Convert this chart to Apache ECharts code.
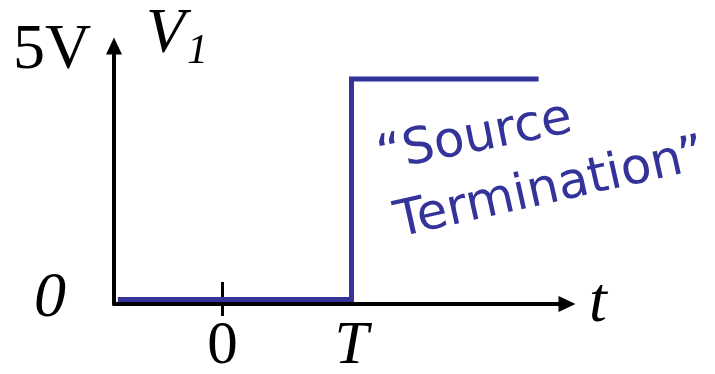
<!DOCTYPE html>
<html>
<head>
<meta charset="utf-8">
<script src="https://cdn.jsdelivr.net/npm/echarts@6/dist/echarts.min.js"></script>
<style>
  html, body { margin: 0; padding: 0; background: #fff; }
  #main { width: 715px; height: 374px; }
</style>
</head>
<body>
<div id="main"></div>
<script>
// step of V1 at t = T (T taken as 1 unit)
var times = [-0.81, 1, 1, 2.45];
var volts = [0, 0, 5, 5];
var xTickValues = [0, 1];
var xTickLabels = ['0', 'T'];
var yTickValues = [0];
var yTickLabels = ['0'];

var blue = '#333399';
var serif = '"Liberation Serif", "Times New Roman", serif';
var comic = '"Comic Sans MS", "DejaVu Sans", sans-serif';

var points = [];
for (var i = 0; i < times.length; i++) {
  points.push([times[i], volts[i]]);
}

var chart = echarts.init(document.getElementById('main'), null, {
  width: 715,
  height: 374
});

var option = {
  backgroundColor: '#fff',
  animation: false,
  grid: {
    left: 114,
    right: 148,
    top: 46,
    bottom: 70,
    containLabel: false,
    outerBoundsMode: 'none'
  },
  xAxis: [{
    type: 'value',
    min: -0.84,
    max: 2.67,
    splitLine: { show: false },
    axisLine: {
      onZero: false,
      symbol: ['none', 'triangle'],
      symbolSize: [16, 17],
      lineStyle: { color: '#000', width: 4 }
    },
    axisTick: {
      customValues: [0],
      length: 12,
      lineStyle: { color: '#000', width: 3 }
    },
    axisLabel: {
      customValues: xTickValues,
      margin: 12,
      color: '#000',
      fontFamily: serif,
      fontSize: 61,
      formatter: function (v) {
        var idx = xTickValues.indexOf(v);
        var s = idx >= 0 ? xTickLabels[idx] : '';
        return s === 'T' ? '{i|T}' : s;
      },
      rich: {
        i: { fontStyle: 'italic', fontFamily: serif, fontSize: 61, color: '#000' }
      }
    },
    name: 't',
    nameLocation: 'end',
    nameGap: 22,
    nameTextStyle: {
      fontFamily: serif,
      fontStyle: 'italic',
      fontSize: 64,
      color: '#000'
    }
  }, {
    // upper half of the tick at t = 0
    type: 'value',
    position: 'bottom',
    min: -0.84,
    max: 2.67,
    splitLine: { show: false },
    axisLine: { show: false, onZero: false },
    axisLabel: { show: false },
    axisTick: {
      customValues: [0],
      inside: true,
      length: 22,
      lineStyle: { color: '#000', width: 3 }
    }
  }],
  yAxis: {
    type: 'value',
    min: -0.1,
    max: 5.75,
    splitLine: { show: false },
    axisLine: {
      onZero: false,
      symbol: ['none', 'triangle'],
      symbolSize: [16, 17],
      lineStyle: { color: '#000', width: 4 }
    },
    axisTick: { show: false },
    axisLabel: {
      customValues: yTickValues,
      margin: 48,
      color: '#000',
      fontFamily: serif,
      fontStyle: 'italic',
      fontSize: 64,
      formatter: function (v) {
        var idx = yTickValues.indexOf(v);
        return idx >= 0 ? yTickLabels[idx] : '';
      }
    }
  },
  series: [{
    name: 'V1',
    type: 'line',
    data: points,
    symbol: 'none',
    z: 3,
    lineStyle: { color: blue, width: 5, cap: 'butt', join: 'miter' }
  }],
  graphic: [{
    type: 'text',
    left: 13,
    top: 19,
    style: { text: '5V', font: '64px ' + serif, fill: '#000' }
  }, {
    type: 'text',
    left: 146,
    top: 3,
    style: {
      text: '{v|V}{s|1}',
      rich: {
        v: { font: 'italic 64px ' + serif, fill: '#000', verticalAlign: 'top' },
        s: { font: 'italic 42px ' + serif, fill: '#000', padding: [28, 0, 0, 2] }
      }
    }
  }, {
    type: 'text',
    x: 378,
    y: 158,
    rotation: 0.2,
    style: {
      text: '\u201CSource',
      font: '50px ' + comic,
      fill: blue,
      align: 'left',
      verticalAlign: 'middle'
    }
  }, {
    type: 'text',
    x: 396,
    y: 224,
    rotation: 0.22,
    style: {
      text: 'Termination\u201D',
      font: '50px ' + comic,
      fill: blue,
      align: 'left',
      verticalAlign: 'middle'
    }
  }]
};

chart.setOption(option);
</script>
</body>
</html>
